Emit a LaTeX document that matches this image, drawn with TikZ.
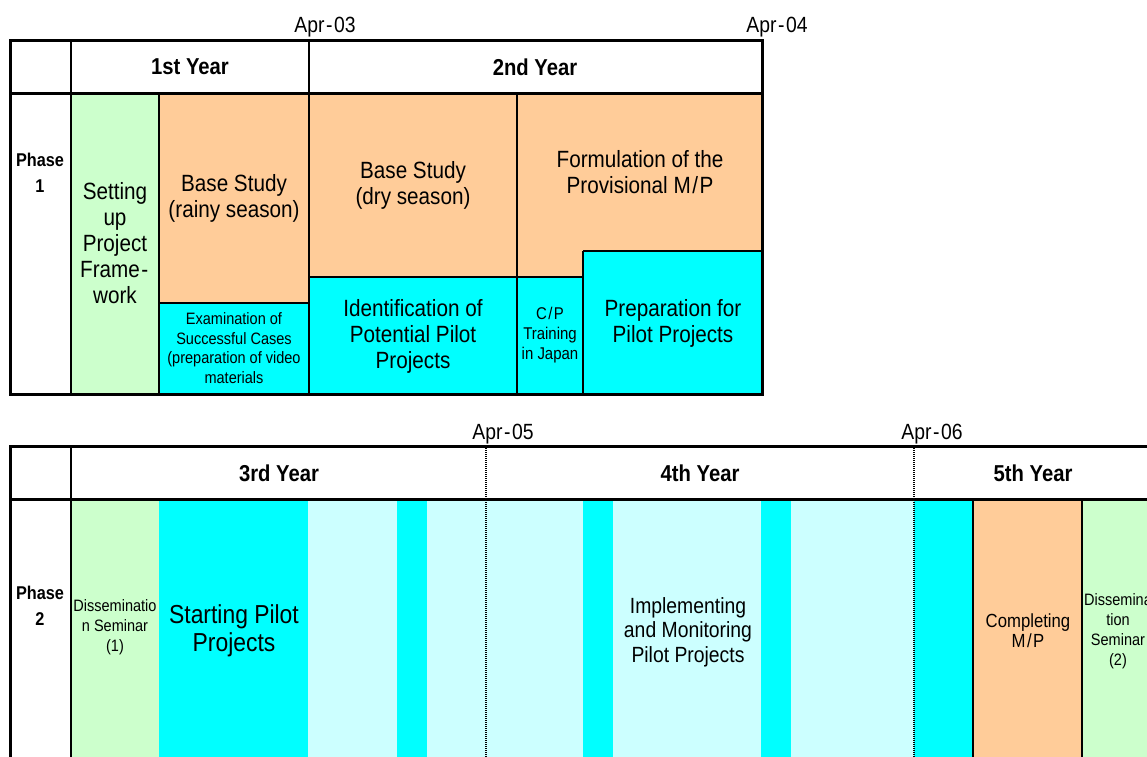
\documentclass[tikz,border=0pt]{standalone}
\usepackage{fontspec}
\setmainfont[FakeStretch=0.88]{Liberation Sans}
\definecolor{cgreen}{HTML}{CCFFCC}
\definecolor{corange}{HTML}{FFCC99}
\definecolor{ccyan}{HTML}{00FFFF}
\definecolor{clcyan}{HTML}{CCFFFF}
\newcommand\myfs[2]{\fontsize{#1}{#2}\selectfont}
\newcommand\myhy{\kern1.5pt-\kern1.5pt}
\newcommand\mysl{\kern1.5pt/\kern1.5pt}
\begin{document}
\begin{tikzpicture}[x=1pt,y=-1pt,
  outer/.style={line width=3pt, line cap=rect},
  inner/.style={line width=2pt},
  dotline/.style={line width=2pt, dash pattern=on 1.2pt off 0.8pt},
  lab/.style={inner sep=0pt, align=center},
  big/.style={lab, font=\myfs{23.5}{26}},
  head/.style={lab, font=\myfs{23}{26}\bfseries},
  phase/.style={lab, font=\myfs{18.5}{26}\bfseries},
  small/.style={lab, font=\myfs{16.5}{19.5}},
  datelab/.style={lab, font=\myfs{22}{24}}]
\clip (0,0) rectangle (1147,756);
% ---------------- top table ----------------
\fill[cgreen] (71,93) rectangle (159,394);
\fill[corange] (159,93) rectangle (309,303);
\fill[ccyan] (159,303) rectangle (309,394);
\fill[corange] (309,93) rectangle (517,277);
\fill[ccyan] (309,277) rectangle (517,394);
\fill[corange] (517,93) -- (762,93) -- (762,251) -- (583,251) -- (583,277) -- (517,277) -- cycle;
\fill[ccyan] (517,277) rectangle (583,394);
\fill[ccyan] (583,251) rectangle (762,394);
\draw[inner] (71,40) -- (71,394);
\draw[inner] (159,93) -- (159,394);
\draw[inner] (309,40) -- (309,394);
\draw[inner] (159,303) -- (309,303);
\draw[inner] (309,277) -- (583,277);
\draw[inner] (517,93) -- (517,394);
\draw[inner] (583,251) -- (583,394);
\draw[inner] (583,251) -- (762,251);
\draw[outer] (10,93) -- (762,93);
\draw[outer] (10,40) rectangle (762,394);
% top texts
\node[datelab] (apr03) at (325,27) {Apr\myhy03};
\node[datelab] (apr04) at (777,27) {Apr\myhy04};
\node[head] (y1) at (190,67) {1st Year};
\node[head] (y2) at (535,67) {2nd Year};
\node[phase] (ph1) at (40,173) {Phase\\1};
\node[big] (setup) at (115,243) {Setting\\up\\Project\\Frame\myhy\\work};
\node[big] (rainy) at (234,198) {Base Study\\(rainy season)};
\node[small] (exam) at (234,348) {Examination of\\Successful Cases\\(preparation of video\\materials};
\node[big] (dry) at (413,185) {Base Study\\(dry season)};
\node[big] (formul) at (640,172) {Formulation of the\\Provisional M\mysl P};
\node[big] (ident) at (413,336) {Identification of\\Potential Pilot\\Projects};
\node[lab, font=\myfs{17}{20}] (cp) at (550,335) {C\mysl P\\Training\\in Japan};
\node[big] (prep) at (673,323) {Preparation for\\Pilot Projects};
% ---------------- bottom table ----------------
\fill[cgreen] (71,499) rectangle (159,770);
\fill[ccyan] (159,499) rectangle (308,770);
\fill[clcyan] (308,499) rectangle (397,770);
\fill[ccyan] (397,499) rectangle (427,770);
\fill[clcyan] (427,499) rectangle (583,770);
\fill[ccyan] (583,499) rectangle (613,770);
\fill[clcyan] (613,499) rectangle (761,770);
\fill[ccyan] (761,499) rectangle (791,770);
\fill[clcyan] (791,499) rectangle (914,770);
\fill[ccyan] (914,499) rectangle (973,770);
\fill[corange] (973,499) rectangle (1082,770);
\fill[cgreen] (1082,499) rectangle (1153,770);
\draw[inner] (71,446) -- (71,770);
\draw[inner] (973,499) -- (973,770);
\draw[inner] (1082,499) -- (1082,770);
\draw[dotline] (486,446) -- (486,770);
\draw[dotline] (914,446) -- (914,770);
\draw[outer] (10,446) -- (1153,446);
\draw[outer] (10,499) -- (1153,499);
\draw[outer] (10,446) -- (10,770);
\draw[outer] (1153,446) -- (1153,770);
% bottom texts
\node[datelab] (apr05) at (503,434) {Apr\myhy05};
\node[datelab] (apr06) at (932,434) {Apr\myhy06};
\node[head] (y3) at (279,473) {3rd Year};
\node[head] (y4) at (700,473) {4th Year};
\node[head] (y5) at (1033,473) {5th Year};
\node[phase] (ph2) at (40,606) {Phase\\2};
\node[lab, font=\myfs{16.5}{20}] (sem1) at (115,627) {Disseminatio\\n Seminar\\(1)};
\node[lab, font=\myfs{26}{28}] (start) at (234,631) {Starting Pilot\\Projects};
\node[lab, font=\myfs{22}{24.5}] (impl) at (688,632) {Implementing\\and Monitoring\\Pilot Projects};
\node[lab, font=\myfs{19}{20}] (compl) at (1028,631) {Completing\\M\mysl P};
\node[lab, font=\myfs{16.5}{20}] (sem2) at (1118,631) {Dissemina\\tion\\Seminar\\(2)};
\end{tikzpicture}
\end{document}
